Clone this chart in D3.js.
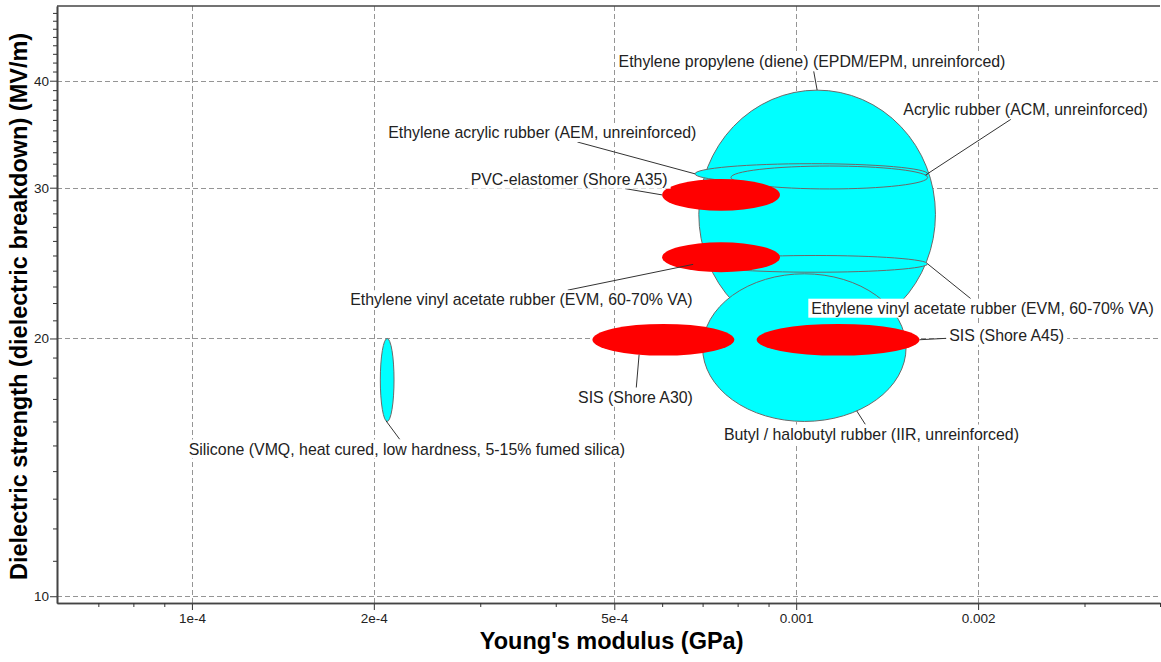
<!DOCTYPE html>
<html>
<head>
<meta charset="utf-8">
<script src="https://cdn.jsdelivr.net/npm/d3@7"></script>
<style>
	body { margin: 0; background: #fff; }
	svg text { font-family: Arial, "Liberation Sans", sans-serif; }
</style>
</head>
<body>
<div id="wrapper"></div>
<script>
// 1. Data (Young's modulus in GPa, dielectric strength in MV/m), listed in drawing order

const materials = [
	"Ethylene propylene (diene) (EPDM/EPM, unreinforced)",
	"Butyl / halobutyl rubber (IIR, unreinforced)",
	"Ethylene acrylic rubber (AEM, unreinforced)",
	"Acrylic rubber (ACM, unreinforced)",
	"Ethylene vinyl acetate rubber (EVM, 60-70% VA)",
	"Silicone (VMQ, heat cured, low hardness, 5-15% fumed silica)",
	"PVC-elastomer (Shore A35)",
	"Ethylene vinyl acetate rubber (EVM, 60-70% VA)",
	"SIS (Shore A30)",
	"SIS (Shore A45)"
];
const family = ["Elastomer", "Elastomer", "Elastomer", "Elastomer", "Elastomer", "Elastomer", "TPE", "TPE", "TPE", "TPE"];
const modulusMin = [6.9e-4, 7.0e-4, 6.8e-4, 7.8e-4, 7.0e-4, 2.05e-4, 6.0e-4, 6.0e-4, 4.6e-4, 8.6e-4];
const modulusMax = [1.7e-3, 1.52e-3, 1.65e-3, 1.65e-3, 1.65e-3, 2.16e-4, 9.4e-4, 9.4e-4, 7.9e-4, 1.6e-3];
const strengthMin = [20, 16, 30.3, 29.9, 23.9, 16, 28.2, 23.9, 19.1, 19.1];
const strengthMax = [39, 23.8, 32, 31.8, 25.0, 20, 30.7, 25.9, 20.8, 20.8];

// label anchors (data units) and where the leader meets the bubble
const labelModulus = [1.062e-3, 1.332e-3, 3.80e-4, 2.397e-3, 2.034e-3, 2.268e-4, 4.21e-4, 3.51e-4, 5.42e-4, 2.23e-3];
const labelStrength = [42.1, 15.47, 34.8, 37.0, 21.7, 14.86, 30.7, 22.2, 17.08, 20.18];
const leaderAngle = [90, -59, 180, 12, 0, -99, 180, -135, -110, 0];
const leaderReach = [1, 1, 1, 1, 1, 1, 1, 0.67, 1, 1];

const xTickValues = [1e-4, 2e-4, 5e-4, 1e-3, 2e-3];
const xTickLabels = ["1e-4", "2e-4", "5e-4", "0.001", "0.002"];
const xMinorTicks = [7e-5, 8e-5, 9e-5, 3e-4, 4e-4, 6e-4, 7e-4, 8e-4, 9e-4, 3e-3, 4e-3];
const yTickValues = [10, 20, 30, 40];
const yTickLabels = ["10", "20", "30", "40"];
const yMinorTicks = d3.range(11, 49).filter(v => v % 10 !== 0);

const dataset = materials.map((name, i) => ({
	name: name,
	family: family[i],
	eMin: modulusMin[i], eMax: modulusMax[i],
	sMin: strengthMin[i], sMax: strengthMax[i],
	labelE: labelModulus[i], labelS: labelStrength[i],
	angle: leaderAngle[i], reach: leaderReach[i]
}));

// 2. Dimensions

let dimensions = {
	width: 1161,
	height: 662,
	margin: { top: 6, right: 1, bottom: 59, left: 57 }
};
dimensions.boundedWidth = dimensions.width - dimensions.margin.left - dimensions.margin.right;
dimensions.boundedHeight = dimensions.height - dimensions.margin.top - dimensions.margin.bottom;

// 3. Canvas

const wrapper = d3.select("#wrapper")
	.append("svg")
	.attr("width", dimensions.width)
	.attr("height", dimensions.height);
const bounds = wrapper.append("g")
	.attr("transform", `translate(${dimensions.margin.left},${dimensions.margin.top})`);

// 4. Scales

const xScale = d3.scaleLog()
	.domain([5.98e-5, 4.0e-3])
	.range([0, dimensions.boundedWidth]);
const yScale = d3.scaleLog()
	.domain([9.82, 48.9])
	.range([dimensions.boundedHeight, 0]);
const colorScale = d3.scaleOrdinal()
	.domain(["Elastomer", "TPE"])
	.range(["#00ffff", "#ff0000"]);

// grid
const grid = bounds.append("g").attr("class", "grid")
	.attr("stroke", "#959595").attr("stroke-width", 1).attr("stroke-dasharray", "5,3");
grid.selectAll(".gx").data(xTickValues).join("line")
	.attr("x1", d => Math.round(xScale(d)) + 0.5).attr("x2", d => Math.round(xScale(d)) + 0.5)
	.attr("y1", 0).attr("y2", dimensions.boundedHeight);
grid.selectAll(".gy").data(yTickValues).join("line")
	.attr("y1", d => Math.round(yScale(d)) + 0.5).attr("y2", d => Math.round(yScale(d)) + 0.5)
	.attr("x1", 0).attr("x2", dimensions.boundedWidth);

// 5. Bubbles (ellipses in log space)

const ellipseOf = d => {
	const x0 = xScale(d.eMin), x1 = xScale(d.eMax);
	const y0 = yScale(d.sMax), y1 = yScale(d.sMin);
	return { cx: (x0 + x1) / 2, cy: (y0 + y1) / 2, rx: (x1 - x0) / 2, ry: (y1 - y0) / 2 };
};

bounds.append("g").selectAll("ellipse").data(dataset).join("ellipse")
	.attr("cx", d => ellipseOf(d).cx)
	.attr("cy", d => ellipseOf(d).cy)
	.attr("rx", d => ellipseOf(d).rx)
	.attr("ry", d => ellipseOf(d).ry)
	.attr("fill", d => colorScale(d.family))
	.attr("stroke", d => d.family === "TPE" ? "none" : "#6a6a6a")
	.attr("stroke-width", 1);

// 6. Axes

bounds.append("g")
	.attr("transform", `translate(0,${dimensions.boundedHeight})`)
	.call(d3.axisBottom(xScale).tickValues(xTickValues)
		.tickFormat((d, i) => xTickLabels[i]).tickSize(7).tickSizeOuter(0).tickPadding(3));
bounds.append("g")
	.attr("transform", `translate(0,${dimensions.boundedHeight})`)
	.call(d3.axisBottom(xScale).tickValues(xMinorTicks).tickFormat("").tickSize(4).tickSizeOuter(0));

bounds.append("g")
	.call(d3.axisLeft(yScale).tickValues(yTickValues)
		.tickFormat((d, i) => yTickLabels[i]).tickSize(7).tickSizeOuter(0).tickPadding(1));
bounds.append("g")
	.call(d3.axisLeft(yScale).tickValues(yMinorTicks).tickFormat("").tickSize(4).tickSizeOuter(0));

bounds.selectAll(".domain").attr("stroke", "#444").attr("stroke-width", 1.6);
bounds.selectAll(".tick line").attr("stroke", "#333");
bounds.selectAll(".tick text").attr("font-size", 13.5).attr("fill", "#222")
	.attr("font-family", "Arial, 'Liberation Sans', sans-serif");

// top frame
bounds.append("line")
	.attr("x1", 0).attr("x2", dimensions.boundedWidth)
	.attr("y1", 0).attr("y2", 0)
	.attr("stroke", "#444").attr("stroke-width", 1.6);

// axis titles
wrapper.append("text")
	.attr("x", dimensions.margin.left + xScale(4.95e-4))
	.attr("y", 649)
	.attr("text-anchor", "middle")
	.attr("font-size", 23.5).attr("font-weight", "bold").attr("fill", "#000")
	.text("Young's modulus (GPa)");

wrapper.append("text")
	.attr("transform", `translate(27,${dimensions.margin.top + yScale(21.8)}) rotate(-90)`)
	.attr("text-anchor", "middle")
	.attr("font-size", 23.5).attr("font-weight", "bold").attr("fill", "#000")
	.text("Dielectric strength (dielectric breakdown) (MV/m)");

// 7. Labels with leader lines

const labels = bounds.append("g").attr("class", "labels");
const pad = 3;

dataset.forEach(d => {
	const e = ellipseOf(d);
	const a = d.angle * Math.PI / 180;
	const px = e.cx + e.rx * d.reach * Math.cos(a);
	const py = e.cy - e.ry * d.reach * Math.sin(a);
	const lx = xScale(d.labelE);
	const ly = yScale(d.labelS);

	const g = labels.append("g");
	const leader = g.append("line").attr("stroke", "#333").attr("stroke-width", 1);
	const box = g.append("rect").attr("fill", "#fff");
	const text = g.append("text")
		.attr("x", lx).attr("y", ly).attr("dy", "0.35em")
		.attr("text-anchor", "middle")
		.attr("font-size", 15.9).attr("fill", "#222")
		.text(d.name);

	const bb = text.node().getBBox();
	box.attr("x", bb.x - pad).attr("y", bb.y - pad + 2)
		.attr("width", bb.width + 2 * pad).attr("height", bb.height + 2 * pad - 4);

	const hw = bb.width / 2 + pad, hh = bb.height / 2 + pad - 2;
	const dx = px - lx, dy = py - ly;
	const t = Math.min(dx === 0 ? Infinity : hw / Math.abs(dx), dy === 0 ? Infinity : hh / Math.abs(dy));
	leader.attr("x1", lx + t * dx).attr("y1", ly + t * dy)
		.attr("x2", px).attr("y2", py);
});
</script>
</body>
</html>
